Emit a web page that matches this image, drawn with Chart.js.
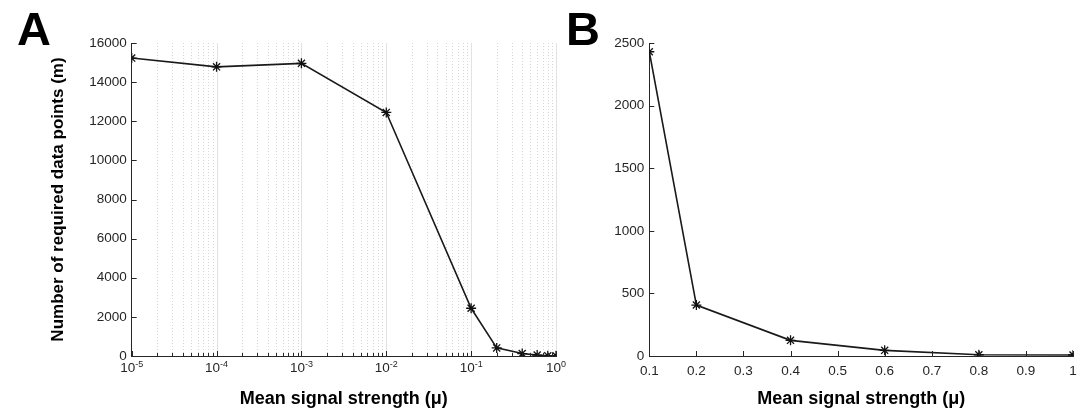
<!DOCTYPE html>
<html>
<head>
<meta charset="utf-8">
<script src="https://cdn.jsdelivr.net/npm/chart.js@4.4.0/dist/chart.umd.min.js"></script>
<style>
  html, body { margin: 0; padding: 0; background: #fff; }
  #wrap { position: relative; width: 1090px; height: 419px; }
  #boxA { position: absolute; left: 0; top: 0; width: 570px; height: 419px; }
  #boxB { position: absolute; left: 555px; top: 0; width: 535px; height: 419px; }
</style>
</head>
<body>
<div id="wrap">
  <div id="boxA"><canvas id="chartA"></canvas></div>
  <div id="boxB"><canvas id="chartB"></canvas></div>
</div>
<script>
// Panel A: log x axis
const muA = [1e-5, 1e-4, 1e-3, 1e-2, 1e-1, 0.2, 0.4, 0.6, 0.8, 1];
const pointsA = [15230, 14780, 14960, 12450, 2440, 415, 125, 45, 10, 8];
const xTicksA = [1e-5, 1e-4, 1e-3, 1e-2, 1e-1, 1];
const xTickExpA = ['-5', '-4', '-3', '-2', '-1', '0'];
const yTicksA = [0, 2000, 4000, 6000, 8000, 10000, 12000, 14000, 16000];

// Panel B: linear x axis
const muB = [0.1, 0.2, 0.4, 0.6, 0.8, 1];
const pointsB = [2430, 407, 125, 45, 10, 8];
const xTicksB = [0.1, 0.2, 0.3, 0.4, 0.5, 0.6, 0.7, 0.8, 0.9, 1];
const xTickLabelsB = ['0.1', '0.2', '0.3', '0.4', '0.5', '0.6', '0.7', '0.8', '0.9', '1'];
const yTicksB = [0, 500, 1000, 1500, 2000, 2500];

const xTitle = 'Mean signal strength (\u03bc)';
const yTitleA = 'Number of required data points (m)';

const FONT = "'Liberation Sans', Arial, sans-serif";
const INK = '#262626';
const TICK_SIZE = 13.5;

// grid lines, inward ticks, power-of-ten labels and panel letter
const matlabAxes = {
    id: 'matlabAxes',
    beforeDatasetsDraw(chart, args, o) {
        if (!o.logGrid) return;
        const ctx = chart.ctx, x = chart.scales.x, a = chart.chartArea;
        ctx.save();
        ctx.lineWidth = 1;
        const lo = Math.round(Math.log10(x.min)), hi = Math.round(Math.log10(x.max));
        ctx.strokeStyle = '#d6d6d6';
        ctx.setLineDash([1, 2]);
        ctx.beginPath();
        for (let e = lo; e < hi; e++) {
            for (let k = 2; k <= 9; k++) {
                const px = Math.round(x.getPixelForValue(k * Math.pow(10, e))) + 0.5;
                ctx.moveTo(px, a.top);
                ctx.lineTo(px, a.bottom);
            }
        }
        ctx.stroke();
        ctx.setLineDash([]);
        ctx.strokeStyle = '#e2e2e2';
        ctx.beginPath();
        x.ticks.forEach(t => {
            const px = Math.round(x.getPixelForValue(t.value)) + 0.5;
            if (px < a.left + 2) return;
            ctx.moveTo(px, a.top);
            ctx.lineTo(px, a.bottom);
        });
        ctx.stroke();
        ctx.restore();
    },
    afterDraw(chart, args, o) {
        const ctx = chart.ctx, a = chart.chartArea, x = chart.scales.x, y = chart.scales.y;
        ctx.save();
        ctx.strokeStyle = INK;
        ctx.lineWidth = 1;
        ctx.beginPath();
        x.ticks.forEach(t => {
            const px = Math.round(x.getPixelForValue(t.value)) + 0.5;
            ctx.moveTo(px, a.bottom);
            ctx.lineTo(px, a.bottom - 5);
        });
        if (o.logGrid) {
            const lo = Math.round(Math.log10(x.min)), hi = Math.round(Math.log10(x.max));
            for (let e = lo; e < hi; e++) {
                for (let k = 2; k <= 9; k++) {
                    const px = Math.round(x.getPixelForValue(k * Math.pow(10, e))) + 0.5;
                    ctx.moveTo(px, a.bottom);
                    ctx.lineTo(px, a.bottom - 3);
                }
            }
        }
        y.ticks.forEach(t => {
            const py = Math.round(y.getPixelForValue(t.value)) + 0.5;
            ctx.moveTo(a.left, py);
            ctx.lineTo(a.left + 5, py);
        });
        ctx.stroke();

        if (o.powerLabels) {
            ctx.fillStyle = INK;
            ctx.textBaseline = 'alphabetic';
            ctx.textAlign = 'left';
            x.ticks.forEach((t, i) => {
                const px = x.getPixelForValue(t.value);
                ctx.font = TICK_SIZE + 'px ' + FONT;
                const w1 = ctx.measureText('10').width;
                ctx.font = '9px ' + FONT;
                const w2 = ctx.measureText(o.powerLabels[i]).width;
                const left = px - (w1 + w2) / 2;
                ctx.font = TICK_SIZE + 'px ' + FONT;
                ctx.fillText('10', left, a.bottom + 16);
                ctx.font = '9px ' + FONT;
                ctx.fillText(o.powerLabels[i], left + w1, a.bottom + 11);
            });
        }

        ctx.fillStyle = '#000';
        ctx.font = 'bold 47px ' + FONT;
        ctx.textBaseline = 'alphabetic';
        ctx.textAlign = 'left';
        ctx.fillText(o.letter, o.letterX, 45);
        ctx.restore();
    }
};

const lineStyle = {
    borderColor: '#1a1a1a',
    borderWidth: 1.6,
    pointStyle: 'star',
    pointRadius: 5,
    pointBorderWidth: 1.3,
    pointBorderColor: '#111',
    pointBackgroundColor: '#111',
    tension: 0,
    fill: false
};

const chartA = new Chart(document.getElementById('chartA'), {
    type: 'line',
    data: {
        datasets: [Object.assign({
            data: muA.map((m, i) => ({ x: m, y: pointsA[i] }))
        }, lineStyle)]
    },
    options: {
        responsive: true,
        maintainAspectRatio: false,
        animation: false,
        layout: { padding: { left: 0, right: 14, top: 43, bottom: 0 } },
        scales: {
            x: {
                type: 'logarithmic',
                min: 1e-5,
                max: 1,
                afterBuildTicks: s => { s.ticks = xTicksA.map(v => ({ value: v })); },
                afterFit: s => { s.height = 63; },
                grid: { display: false, drawTicks: false },
                border: { display: true, color: INK, width: 1 },
                ticks: { display: false },
                title: {
                    display: true,
                    text: xTitle,
                    color: '#000',
                    font: { family: FONT, size: 18, weight: 'bold' },
                    padding: { top: 0, bottom: 9 }
                }
            },
            y: {
                min: 0,
                max: 16000,
                afterBuildTicks: s => { s.ticks = yTicksA.map(v => ({ value: v })); },
                afterFit: s => { s.width = 131.7; },
                grid: { display: false, drawTicks: false },
                border: { display: true, color: INK, width: 1 },
                ticks: {
                    color: INK,
                    padding: 5,
                    font: { family: FONT, size: TICK_SIZE },
                    callback: v => String(v)
                },
                title: {
                    display: true,
                    text: yTitleA,
                    color: '#000',
                    font: { family: FONT, size: 17, weight: 'bold' },
                    padding: { top: 48, bottom: 0 }
                }
            }
        },
        plugins: {
            legend: { display: false },
            tooltip: { enabled: false },
            matlabAxes: { logGrid: true, powerLabels: xTickExpA, letter: 'A', letterX: 17 }
        }
    },
    plugins: [matlabAxes]
});

const chartB = new Chart(document.getElementById('chartB'), {
    type: 'line',
    data: {
        datasets: [Object.assign({
            data: muB.map((m, i) => ({ x: m, y: pointsB[i] }))
        }, lineStyle)]
    },
    options: {
        responsive: true,
        maintainAspectRatio: false,
        animation: false,
        layout: { padding: { left: 0, right: 17, top: 43, bottom: 0 } },
        scales: {
            x: {
                type: 'linear',
                min: 0.1,
                max: 1,
                afterBuildTicks: s => { s.ticks = xTicksB.map(v => ({ value: v })); },
                afterFit: s => { s.height = 63; },
                grid: { display: false, drawTicks: false },
                border: { display: true, color: INK, width: 1 },
                ticks: {
                    color: INK,
                    padding: 7,
                    maxRotation: 0,
                    autoSkip: false,
                    font: { family: FONT, size: TICK_SIZE },
                    callback: (v, i) => xTickLabelsB[i]
                },
                title: {
                    display: true,
                    text: xTitle,
                    color: '#000',
                    font: { family: FONT, size: 18, weight: 'bold' },
                    padding: { top: 0, bottom: 9 }
                }
            },
            y: {
                min: 0,
                max: 2500,
                afterBuildTicks: s => { s.ticks = yTicksB.map(v => ({ value: v })); },
                afterFit: s => { s.width = 94.3; },
                grid: { display: false, drawTicks: false },
                border: { display: true, color: INK, width: 1 },
                ticks: {
                    color: INK,
                    padding: 5,
                    font: { family: FONT, size: TICK_SIZE },
                    callback: v => String(v)
                }
            }
        },
        plugins: {
            legend: { display: false },
            tooltip: { enabled: false },
            matlabAxes: { logGrid: false, letter: 'B', letterX: 11 }
        }
    },
    plugins: [matlabAxes]
});
</script>
</body>
</html>
